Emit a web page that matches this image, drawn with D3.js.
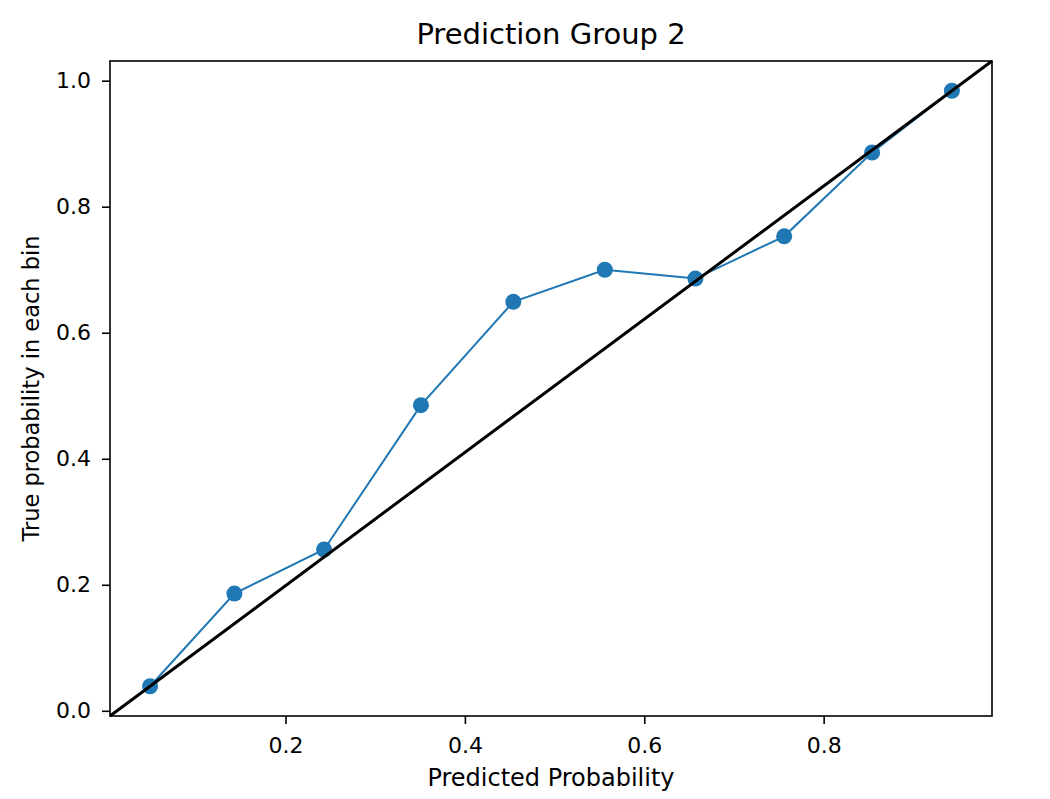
<!DOCTYPE html>
<html>
<head>
<meta charset="utf-8">
<script src="https://cdn.jsdelivr.net/npm/d3@7"></script>
<style>
  body { margin: 0; background: #fff; }
  text { font-family: "DejaVu Sans", sans-serif; fill: #000; }
</style>
</head>
<body>
<div id="chart"></div>
<script>
// mean predicted probability per bin, and fraction of positives per bin
var predicted = [0.049, 0.143, 0.243, 0.351, 0.454, 0.556, 0.657, 0.756, 0.854, 0.943];
var trueProb = [0.039, 0.186, 0.256, 0.485, 0.649, 0.700, 0.686, 0.753, 0.886, 0.984];
var xTicks = [0.2, 0.4, 0.6, 0.8];
var yTicks = [0.0, 0.2, 0.4, 0.6, 0.8, 1.0];

var margin = {top: 61, right: 58, bottom: 83, left: 110},
    width = 1050 - margin.left - margin.right,
    height = 799 - margin.top - margin.bottom;

var svg = d3.select("#chart").append("svg")
    .attr("width", 1050)
    .attr("height", 799);

var g = svg.append("g")
    .attr("transform", "translate(" + margin.left + "," + margin.top + ")");

// limits like matplotlib autoscale: data extent plus 5% each side
function padded(arr) {
    var e = d3.extent(arr), p = (e[1] - e[0]) * 0.05;
    return [e[0] - p, e[1] + p];
}
var x = d3.scaleLinear().domain(padded(predicted)).range([0, width]);
var y = d3.scaleLinear().domain(padded(trueProb)).range([height, 0]);

var data = predicted.map(function(d, i) { return {p: d, t: trueProb[i]}; });

// calibration curve
var line = d3.line()
    .x(function(d) { return x(d.p); })
    .y(function(d) { return y(d.t); });

g.append("path").datum(data)
    .attr("d", line)
    .attr("fill", "none")
    .attr("stroke", "#1f77b4")
    .attr("stroke-width", 2);

g.selectAll("circle").data(data).enter().append("circle")
    .attr("cx", function(d) { return x(d.p); })
    .attr("cy", function(d) { return y(d.t); })
    .attr("r", 8)
    .attr("fill", "#1f77b4");

// perfect calibration diagonal, corner to corner of the axes
g.append("line")
    .attr("x1", 0).attr("y1", height)
    .attr("x2", width).attr("y2", 0)
    .attr("stroke", "#000")
    .attr("stroke-width", 3);

// axes
var xAxis = g.append("g")
    .attr("transform", "translate(0," + height + ")")
    .call(d3.axisBottom(x).tickValues(xTicks).tickFormat(d3.format(".1f"))
        .tickSizeInner(8).tickSizeOuter(0).tickPadding(13));
var yAxis = g.append("g")
    .call(d3.axisLeft(y).tickValues(yTicks).tickFormat(d3.format(".1f"))
        .tickSizeInner(8).tickSizeOuter(0).tickPadding(11));

[xAxis, yAxis].forEach(function(a) {
    a.select(".domain").remove();
    a.selectAll(".tick line").attr("stroke", "#000").attr("stroke-width", 1.6);
    a.selectAll(".tick text").style("font-size", "22px")
        .style("font-family", "'DejaVu Sans', sans-serif");
});

// frame
g.append("rect")
    .attr("width", width).attr("height", height)
    .attr("fill", "none")
    .attr("stroke", "#000")
    .attr("stroke-width", 1.6);

// labels
svg.append("text")
    .attr("x", margin.left + width / 2).attr("y", 44)
    .attr("text-anchor", "middle")
    .style("font-size", "29px")
    .text("Prediction Group 2");

svg.append("text")
    .attr("x", margin.left + width / 2).attr("y", 786)
    .attr("text-anchor", "middle")
    .style("font-size", "24px")
    .text("Predicted Probability");

svg.append("text")
    .attr("transform", "translate(39," + (margin.top + height / 2) + ") rotate(-90)")
    .attr("text-anchor", "middle")
    .style("font-size", "22.5px")
    .text("True probability in each bin");
</script>
</body>
</html>
